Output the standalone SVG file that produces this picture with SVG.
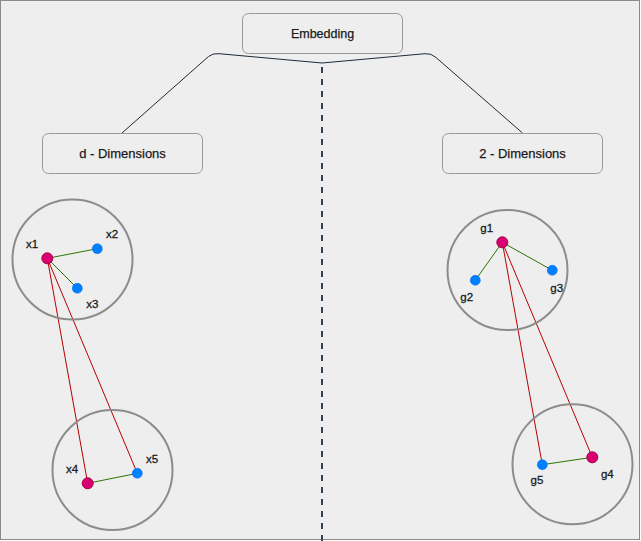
<svg xmlns="http://www.w3.org/2000/svg" width="641" height="541" viewBox="0 0 641 541">
<style>
.box{fill:#eeeeee;stroke:#999999;stroke-width:1}
.lbl{font-family:"Liberation Sans",Arial,sans-serif;font-size:13px;fill:#1a1a1a;stroke:#1a1a1a;stroke-width:0.25;text-anchor:middle;dominant-baseline:central}
.pl{font-family:"Liberation Sans",Arial,sans-serif;font-size:11.5px;fill:#1a1a1a;stroke:#1a1a1a;stroke-width:0.3;text-anchor:middle;dominant-baseline:central}
.ring{fill:none;stroke:#8c8c8c;stroke-width:2}
.conn{fill:none;stroke:#1e2a36;stroke-width:1}
.green{stroke:#2d7600;stroke-width:1;fill:none}
.red{stroke:#b80000;stroke-width:1;fill:none}
.mag{fill:#d80073;stroke:#a50040;stroke-width:1}
.blue{fill:#007fff;stroke:#0066ee;stroke-width:0.5}
</style>
<rect x="0.5" y="0.5" width="639" height="539" fill="#eeeeee" stroke="#8a8a8a" stroke-width="1"/>
<g id="connectors">
<path class="conn" d="M122 133 L208.5 56.5 Q213 53 219 53.7 L322 63 L425 53.7 Q431 53 436 57.5 L522.5 133"/>
<line x1="322" y1="64" x2="322" y2="541" stroke="#314354" stroke-width="2" stroke-dasharray="6 6" stroke-dashoffset="-3"/>
<line class="green" x1="47.3" y1="258.3" x2="97.3" y2="248.7"/>
<line class="green" x1="47.3" y1="258.3" x2="77.3" y2="288.3"/>
<line class="red" x1="47.3" y1="258.3" x2="87.7" y2="483.3"/>
<line class="red" x1="47.3" y1="258.3" x2="137.3" y2="473.3"/>
<line class="green" x1="87.7" y1="483.3" x2="137.3" y2="473.3"/>
<line class="green" x1="502.3" y1="242.3" x2="475.3" y2="280.3"/>
<line class="green" x1="502.3" y1="242.3" x2="552.3" y2="270.3"/>
<line class="red" x1="502.3" y1="242.3" x2="542.3" y2="464.7"/>
<line class="red" x1="502.3" y1="242.3" x2="592.3" y2="457.3"/>
<line class="green" x1="542.3" y1="464.7" x2="592.3" y2="457.3"/>
</g>
<g id="embedding"><rect class="box" x="242.5" y="13.5" width="160" height="40" rx="6"/><text class="lbl" x="322.5" y="33.5" style="font-size:12.5px">Embedding</text></g>
<g id="d-dimensions"><rect class="box" x="42.5" y="133.5" width="160" height="40" rx="6"/><text class="lbl" x="122.5" y="153.5">d - Dimensions</text></g>
<g id="two-dimensions"><rect class="box" x="442.5" y="133.5" width="160" height="40" rx="6"/><text class="lbl" x="522.5" y="153.5">2 - Dimensions</text></g>
<g id="circle-x123"><circle class="ring" cx="72.5" cy="259.5" r="60"/></g>
<g id="circle-x45"><circle class="ring" cx="112.5" cy="470" r="60"/></g>
<g id="circle-g123"><circle class="ring" cx="507.5" cy="270" r="60"/></g>
<g id="circle-g45"><circle class="ring" cx="572.5" cy="464.3" r="60"/></g>
<g id="x1"><circle class="mag" cx="47.3" cy="258.3" r="5.5"/><text class="pl" x="32" y="244">x1</text></g>
<g id="x2"><circle class="blue" cx="97.3" cy="248.7" r="5"/><text class="pl" x="112" y="234">x2</text></g>
<g id="x3"><circle class="blue" cx="77.3" cy="288.3" r="5"/><text class="pl" x="92.3" y="304.3">x3</text></g>
<g id="x4"><circle class="mag" cx="87.7" cy="483.3" r="5.5"/><text class="pl" x="72" y="469.3">x4</text></g>
<g id="x5"><circle class="blue" cx="137.3" cy="473.3" r="5"/><text class="pl" x="152" y="459">x5</text></g>
<g id="g1"><circle class="mag" cx="502.3" cy="242.3" r="5.5"/><text class="pl" x="486.7" y="228.3">g1</text></g>
<g id="g2"><circle class="blue" cx="475.3" cy="280.3" r="5"/><text class="pl" x="466.7" y="296.7">g2</text></g>
<g id="g3"><circle class="blue" cx="552.3" cy="270.3" r="5"/><text class="pl" x="556.7" y="288.3">g3</text></g>
<g id="g4"><circle class="mag" cx="592.3" cy="457.3" r="5.5"/><text class="pl" x="607.3" y="473.7">g4</text></g>
<g id="g5"><circle class="blue" cx="542.3" cy="464.7" r="5"/><text class="pl" x="537" y="480">g5</text></g>
</svg>
